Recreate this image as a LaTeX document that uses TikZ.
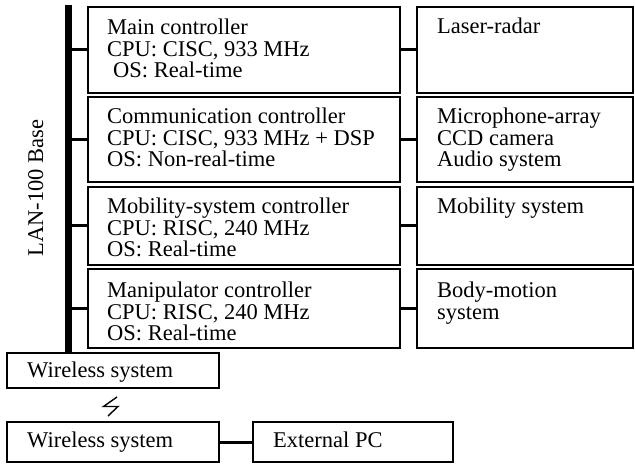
\documentclass[tikz,border=0pt]{standalone}
\usepackage{fontspec}
\setmainfont{Liberation Serif}
\begin{document}
\begin{tikzpicture}[x=1pt,y=-1pt,
  box/.style 2 args={draw, line width=1.4pt, minimum width=#1pt, minimum height=#2pt,
    anchor=north west, inner sep=0pt, outer sep=0pt},
  txt/.style={font=\fontsize{22.5}{21.5}\selectfont, align=left, anchor=north west, inner sep=0pt},
  conn/.style={line width=3pt},
  bus/.style={line width=7pt}]
\useasboundingbox (0,0) rectangle (635,465);
% controller boxes
\node[box={312}{86}] (c1) at (88,7) {};
\node[box={312}{85}] (c2) at (88,97) {};
\node[box={312}{78}] (c3) at (88,187) {};
\node[box={312}{79}] (c4) at (88,269) {};
% device boxes
\node[box={216}{86}] (d1) at (417,7) {};
\node[box={216}{85}] (d2) at (417,97) {};
\node[box={216}{78}] (d3) at (417,187) {};
\node[box={216}{79}] (d4) at (417,269) {};
% wireless
\node[box={212}{35}] (w1) at (7,353) {};
\node[box={212}{40}] (w2) at (7,422) {};
\node[box={200}{40}] (pc) at (253,422) {};
% texts
\node[txt, xshift=19pt, yshift=-12pt] (t1) at (c1.north west) {\strut Main controller\\CPU: CISC, 933 MHz\\\hspace*{6pt}OS: Real-time};
\node[txt, xshift=19pt, yshift=-11pt] (t2) at (c2.north west) {\strut Communication controller\\CPU: CISC, 933 MHz + DSP\\OS: Non-real-time};
\node[txt, xshift=19pt, yshift=-11pt] (t3) at (c3.north west) {\strut Mobility-system controller\\CPU: RISC, 240 MHz\\OS: Real-time};
\node[txt, xshift=19pt, yshift=-13pt] (t4) at (c4.north west) {\strut Manipulator controller\\CPU: RISC, 240 MHz\\OS: Real-time};
\node[txt, xshift=20pt, yshift=-11pt] (u1) at (d1.north west) {\strut Laser-radar};
\node[txt, xshift=20pt, yshift=-11pt] (u2) at (d2.north west) {\strut Microphone-array\\CCD camera\\Audio system};
\node[txt, xshift=20pt, yshift=-11pt] (u3) at (d3.north west) {\strut Mobility system};
\node[txt, xshift=20pt, yshift=-13pt] (u4) at (d4.north west) {\strut Body-motion\\system};
\node[txt, xshift=20pt, yshift=-9pt] (v1) at (w1.north west) {\strut Wireless system};
\node[txt, xshift=20pt, yshift=-10pt] (v2) at (w2.north west) {\strut Wireless system};
\node[txt, xshift=20pt, yshift=-10pt] (v3) at (pc.north west) {\strut External PC};
\node[font=\fontsize{22.5}{21.5}\selectfont, rotate=90, anchor=base, inner sep=0pt] (lan) at (43,188) {LAN-100 Base};
% bus
\coordinate (bt) at (68.5,5);
\draw[bus] (bt) -- (w1.north -| bt);
\foreach \n in {c1,c2,c3,c4} {
  \draw[conn] (\n.west -| bt) -- (\n.west);
}
\draw[conn] (c1.east) -- (d1.west);
\draw[conn] (c2.east) -- (d2.west);
\draw[conn] (c3.east) -- (d3.west);
\draw[conn] (c4.east) -- (d4.west);
\draw[conn] (w2.east) -- (pc.west);
% lightning
\draw[line width=1.4pt, line join=miter] (117,397) -- (103.5,406.5) -- (118,406.5) -- (108,416);
\end{tikzpicture}
\end{document}
